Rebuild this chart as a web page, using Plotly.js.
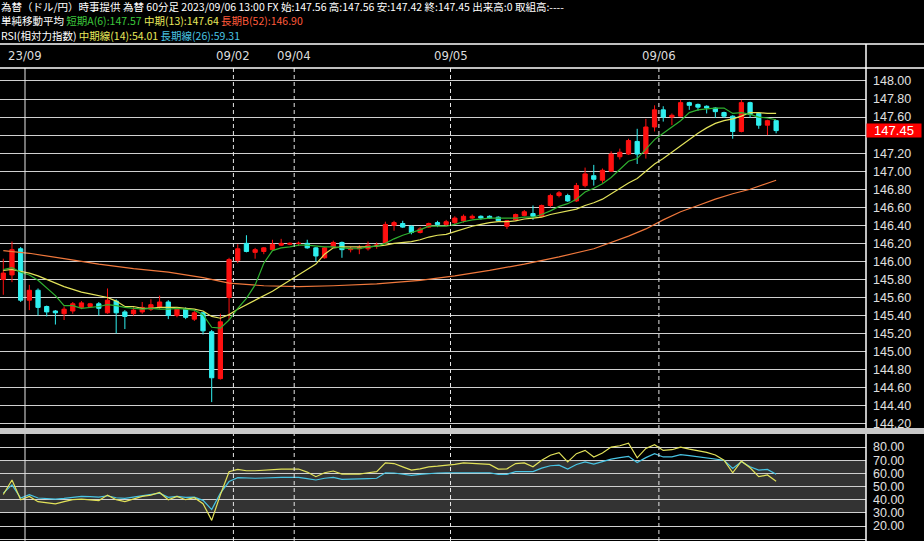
<!DOCTYPE html>
<html><head><meta charset="utf-8">
<script src="https://cdn.plot.ly/plotly-3.0.1.min.js"></script>
<style>html,body{margin:0;padding:0;background:#000;overflow:hidden}#chart{width:924px;height:541px}</style>
</head><body><div id="chart"></div>
<script>
// ---- session structure (60-minute bars) ----
const dayLabels = ['', '23/09', '09/02', '09/04', '09/05', '09/06'];
const dayBarCounts = [3, 24, 7, 18, 24, 14];

// ---- OHLC (USD/JPY, 60 min) ----
const openP = [145.80,145.85,146.14,145.57,145.68,145.50,145.45,145.42,145.45,145.49,
145.50,145.53,145.43,145.56,145.44,145.42,145.44,145.47,145.49,145.55,
145.40,145.47,145.36,145.43,145.22,144.70,145.60,146.01,146.20,146.10,
146.11,146.13,146.18,146.19,146.20,146.20,146.15,146.04,146.16,146.21,
146.13,146.14,146.14,146.18,146.20,146.40,146.42,146.39,146.32,146.38,
146.43,146.41,146.43,146.45,146.48,146.50,146.50,146.49,146.39,146.46,
146.51,146.53,146.50,146.62,146.73,146.73,146.67,146.84,146.95,146.90,
147.00,147.16,147.19,147.33,147.20,147.49,147.68,147.60,147.61,147.76,
147.74,147.72,147.70,147.65,147.61,147.44,147.76,147.64,147.51,147.56];
const highP = [146.03,146.22,146.16,145.74,145.70,145.51,145.46,145.50,145.55,145.56,
145.54,145.55,145.70,145.58,145.46,145.50,145.55,145.58,145.62,145.57,
145.49,145.49,145.45,145.44,145.24,145.42,146.04,146.19,146.29,146.15,
146.16,146.24,146.25,146.21,146.22,146.24,146.16,146.16,146.23,146.22,
146.16,146.18,146.22,146.21,146.44,146.45,146.45,146.40,146.38,146.43,
146.45,146.46,146.50,146.52,146.52,146.51,146.51,146.50,146.46,146.53,
146.57,146.62,146.63,146.75,146.78,146.75,146.87,147.04,147.07,147.03,
147.22,147.25,147.36,147.47,147.58,147.73,147.72,147.64,147.79,147.77,
147.75,147.73,147.71,147.66,147.62,147.79,147.77,147.65,147.57,147.56];
const lowP = [145.63,145.77,145.55,145.46,145.40,145.39,145.30,145.35,145.42,145.47,
145.49,145.40,145.42,145.20,145.25,145.40,145.42,145.45,145.47,145.36,
145.38,145.36,145.34,145.19,144.44,144.69,145.35,145.98,146.10,146.03,
146.08,146.12,146.17,146.18,146.17,146.14,146.00,146.03,146.15,146.04,
146.10,146.08,146.12,146.14,146.19,146.34,146.37,146.30,146.31,146.37,
146.38,146.39,146.41,146.43,146.47,146.46,146.47,146.44,146.36,146.45,
146.50,146.46,146.49,146.60,146.71,146.66,146.66,146.82,146.84,146.87,
146.99,147.13,147.18,147.08,147.14,147.44,147.55,147.51,147.60,147.68,
147.67,147.64,147.59,147.59,147.36,147.43,147.59,147.47,147.40,147.42];
const closeP = [145.87,146.13,145.57,145.68,145.49,145.44,145.43,145.47,145.53,145.54,
145.53,145.48,145.57,145.43,145.39,145.46,145.49,145.52,145.55,145.40,
145.47,145.38,145.43,145.23,144.71,145.33,146.02,146.14,146.11,146.13,
146.15,146.19,146.20,146.20,146.20,146.15,146.06,146.15,146.21,146.13,
146.14,146.15,146.18,146.18,146.41,146.43,146.38,146.32,146.36,146.42,
146.41,146.44,146.48,146.50,146.50,146.48,146.48,146.45,146.45,146.52,
146.55,146.50,146.62,146.73,146.76,146.67,146.84,146.97,146.91,147.01,
147.19,147.21,147.34,147.19,147.49,147.68,147.60,147.62,147.76,147.73,
147.71,147.70,147.66,147.61,147.44,147.76,147.63,147.51,147.56,147.45];

// ---- moving averages ----
const smaA6 = [145.91,145.93,145.88,145.85,145.79,145.70,145.62,145.51,145.51,145.48,
145.49,145.50,145.52,145.51,145.49,145.48,145.47,145.48,145.47,145.47,
145.48,145.47,145.46,145.41,145.27,145.26,145.35,145.48,145.59,145.74,
145.98,146.12,146.15,146.16,146.18,146.18,146.17,146.16,146.16,146.15,
146.14,146.14,146.16,146.17,146.20,146.25,146.29,146.32,146.35,146.39,
146.39,146.39,146.41,146.44,146.46,146.47,146.48,146.48,146.48,146.48,
146.49,146.49,146.52,146.56,146.61,146.64,146.69,146.77,146.81,146.86,
146.93,147.02,147.11,147.14,147.24,147.35,147.42,147.49,147.56,147.65,
147.68,147.69,147.70,147.70,147.64,147.65,147.63,147.60,147.59,147.57];
const sma13 = [145.90,145.91,145.89,145.87,145.84,145.80,145.76,145.72,145.69,145.66,
145.64,145.62,145.60,145.56,145.50,145.50,145.48,145.48,145.49,145.49,
145.49,145.48,145.47,145.45,145.39,145.37,145.41,145.47,145.52,145.57,
145.62,145.67,145.73,145.79,145.85,145.91,145.97,146.08,146.15,146.16,
146.16,146.16,146.16,146.17,146.18,146.20,146.21,146.22,146.24,146.27,
146.29,146.30,146.33,146.36,146.39,146.41,146.43,146.44,146.44,146.45,
146.47,146.48,146.49,146.52,146.54,146.56,146.58,146.62,146.65,146.69,
146.75,146.81,146.87,146.92,147.00,147.08,147.14,147.21,147.29,147.36,
147.42,147.48,147.53,147.56,147.58,147.61,147.65,147.65,147.64,147.64];
const smaB52Bar = [0,3,7,11,15,19,23,26,30,34,38,43,48,52,56,60,64,68,72,74,76,78,80,82,84,86,89];
const smaB52 = [146.12,146.09,146.03,145.97,145.92,145.88,145.82,145.76,145.73,145.72,145.73,145.75,145.79,145.84,145.90,145.97,146.05,146.14,146.28,146.36,146.46,146.55,146.62,146.69,146.75,146.80,146.90];

// ---- RSI ----
const rsi14 = [44,55,40,42.5,38.5,37.5,36.8,38.5,40,40.5,
40,39.3,43.5,40,38.5,40.5,42.5,43.5,45.5,40,
42.5,40,41.5,37,24.3,43.8,61.3,63,62,62,
62.5,63,63.3,63.3,63.3,61,57.5,60.5,61.8,59.5,
59.5,59.5,60.5,61.3,68,67.5,65,62.5,63.5,65,
65.5,66,66.8,68,67.5,67.5,66.8,63.3,63.5,67.5,
68,65,70,73.8,75.8,68.8,75,77.5,72.5,75.5,
80,81,83,71.8,79,81.8,77.5,78,80,78.5,
77.5,76,74,70,60.5,69.3,64.3,57.5,58.8,54.01];
const rsi26 = [45,51.3,41.3,43.8,41.3,41,40.5,41,42,42.5,
42.3,42,43,41.5,41,42,42.5,43.5,45,41.8,
42.5,41.8,42,39.5,32.5,45,53.8,56.8,56.5,56.3,
56.5,57,57,57,57,56,55,56.3,57,55.5,
55.5,55.5,56,56.3,60.5,60.3,59.5,58.5,59.3,60,
60.3,60.5,60.5,60.8,60.8,60.5,60.5,59.3,59.3,61.3,
61.3,61.3,64,65.8,66.3,63.3,66.8,68.8,67,68.8,
70.8,72,73,68.3,72,75,72.5,72.5,74.3,73.5,
72.5,72,71,70,63.8,68.8,65,62.5,63,59.31];

// ---- geometry helpers ----
const W = 924, H = 541, PLOT_R = 866;
const py = v => 1 - v / H;           // y pixel -> paper

const bars = closeP.map((_, i) => i);
const b52x = smaB52Bar.slice();
const lastClose = closeP[closeP.length - 1];

// price-axis ticks every 0.20; the label hidden behind the last-price box is left blank
const priceTicks = [];
for (let k = 0; k <= 20; k++) priceTicks.push(+(144.2 + k * 0.2).toFixed(2));
const priceTickText = priceTicks.map(v => Math.abs(v - lastClose) < 0.1 ? '' : v.toFixed(2));

// day boundaries
const dayStarts = [];
let acc = 0;
dayBarCounts.forEach(c => { dayStarts.push(acc); acc += c; });

const RED = '#ff1010', CYAN = '#30f0f0';
const GREEN = '#2fb02f', YEL = '#e2e25a', ORG = '#f0783c', RSICY = '#48c4e4';

const traces = [
  {type:'candlestick', x:bars, open:openP, high:highP, low:lowP, close:closeP,
   xaxis:'x', yaxis:'y', whiskerwidth:0, hoverinfo:'skip',
   increasing:{line:{color:RED, width:1}, fillcolor:RED},
   decreasing:{line:{color:CYAN, width:1}, fillcolor:CYAN}},
  {type:'scatter', mode:'lines', x:b52x, y:smaB52, line:{color:ORG, width:1.2}, xaxis:'x', yaxis:'y', hoverinfo:'skip'},
  {type:'scatter', mode:'lines', x:bars, y:sma13, line:{color:YEL, width:1.2}, xaxis:'x', yaxis:'y', hoverinfo:'skip'},
  {type:'scatter', mode:'lines', x:bars, y:smaA6, line:{color:GREEN, width:1.2}, xaxis:'x', yaxis:'y', hoverinfo:'skip'},
  {type:'scatter', mode:'lines', x:bars, y:rsi26, line:{color:RSICY, width:1.2}, xaxis:'x', yaxis:'y2', hoverinfo:'skip'},
  {type:'scatter', mode:'lines', x:bars, y:rsi14, line:{color:YEL, width:1.2}, xaxis:'x', yaxis:'y2', hoverinfo:'skip'}
];

const shapes = [];
// RSI 30-70 band
shapes.push({type:'rect', xref:'paper', yref:'y2', x0:0, x1:1, y0:30, y1:70, fillcolor:'#333333', line:{width:0}, layer:'below'});
// day separator lines
for (let d = 1; d < dayStarts.length; d++) {
  const xv = dayStarts[d] - 0.5;
  shapes.push({type:'line', xref:'x', yref:'paper', x0:xv, x1:xv, y0:0, y1:py(68),
    line:{color:'#e6e6e6', width:1, dash: d === 1 ? 'solid' : '4px,3px'}, layer:'above'});
}
// frame lines
shapes.push({type:'line', xref:'paper', yref:'paper', x0:0, x1:W/PLOT_R, y0:py(44), y1:py(44), line:{color:'#ffffff', width:1.5}});
shapes.push({type:'line', xref:'paper', yref:'paper', x0:0, x1:W/PLOT_R, y0:py(68), y1:py(68), line:{color:'#ffffff', width:1.5}});
shapes.push({type:'line', xref:'paper', yref:'paper', x0:1, x1:1, y0:0, y1:py(44), line:{color:'#ffffff', width:1.5}});
// panel separator
shapes.push({type:'rect', xref:'paper', yref:'paper', x0:0, x1:W/PLOT_R, y0:py(434), y1:py(428), fillcolor:'#c8c8c8', line:{width:0}, layer:'above'});

const annotations = [];
const hdrFont = {family:'"Noto Sans CJK JP", "Noto Sans", sans-serif', size:10.5, color:'#ffffff'};
const hdr = (yPix, text) => ({xref:'paper', yref:'paper', x:0, y:py(yPix), xanchor:'left', yanchor:'middle', showarrow:false,
  font:hdrFont, borderpad:0, text:text});
annotations.push(hdr(6, '為替（ドル/円）時事提供 為替 60分足 2023/09/06 13:00 FX 始:147.56 高:147.56 安:147.42 終:' + lastClose.toFixed(2) + ' 出来高:0 取組高:----'));
annotations.push(hdr(20.5, '単純移動平均 <span style="color:#3cc83c">短期A(6):' + smaA6[smaA6.length-1].toFixed(2) + '</span> <span style="color:#e8e85a">中期(13):' + sma13[sma13.length-1].toFixed(2) + '</span> <span style="color:#ff5a3a">長期B(52):' + smaB52[smaB52.length-1].toFixed(2) + '</span>'));
annotations.push(hdr(35.5, 'RSI(相対力指数) <span style="color:#e8e85a">中期線(14):' + rsi14[rsi14.length-1].toFixed(2) + '</span> <span style="color:#48c4e4">長期線(26):' + rsi26[rsi26.length-1].toFixed(2) + '</span>'));
// date labels
for (let d = 1; d < dayStarts.length; d++) {
  annotations.push({xref:'x', yref:'paper', x:dayStarts[d] - 0.5, y:py(56), xanchor:'center', yanchor:'middle', showarrow:false,
    text:dayLabels[d], font:{family:'"Liberation Sans Narrow", "DejaVu Sans Condensed", sans-serif', size:13, color:'#dcdcdc'}});
}
// last price box
annotations.push({xref:'paper', yref:'y', x:1, y:lastClose, xanchor:'left', yanchor:'middle', showarrow:false,
  text:lastClose.toFixed(2), bgcolor:'#ff0000', width:54, height:13, borderpad:0, align:'center',
  font:{family:'"Liberation Sans", Arial, sans-serif', size:13, color:'#ffffff'}});

const axisFont = {family:'"Liberation Sans", Arial, sans-serif', size:12.5, color:'#e0e0e0'};
const layout = {
  width:W, height:H, margin:{l:0, r:W-PLOT_R, t:0, b:0, pad:0},
  paper_bgcolor:'#000000', plot_bgcolor:'#000000', showlegend:false,
  xaxis:{range:[-0.38, 99.35], showgrid:false, zeroline:false, showticklabels:false, ticks:'', showline:false,
    rangeslider:{visible:false}, fixedrange:true},
  yaxis:{domain:[py(428), py(68)], range:[144.153, 148.144], side:'right', tickmode:'array', tickvals:priceTicks, ticktext:priceTickText,
    showgrid:true, gridcolor:'#d0d0d0', gridwidth:1, zeroline:false, showline:false, ticks:'', ticklabelstandoff:6,
    tickfont:axisFont, fixedrange:true},
  yaxis2:{domain:[0, py(434)], range:[8.6, 89.95], side:'right', tick0:0, dtick:10, tickformat:'.2f', anchor:'x',
    showgrid:true, gridcolor:'#d0d0d0', gridwidth:1, zeroline:false, showline:false, ticks:'', ticklabelstandoff:6,
    tickfont:axisFont, fixedrange:true},
  shapes:shapes, annotations:annotations
};

Plotly.newPlot('chart', traces, layout, {staticPlot:true, displayModeBar:false});
</script></body></html>
